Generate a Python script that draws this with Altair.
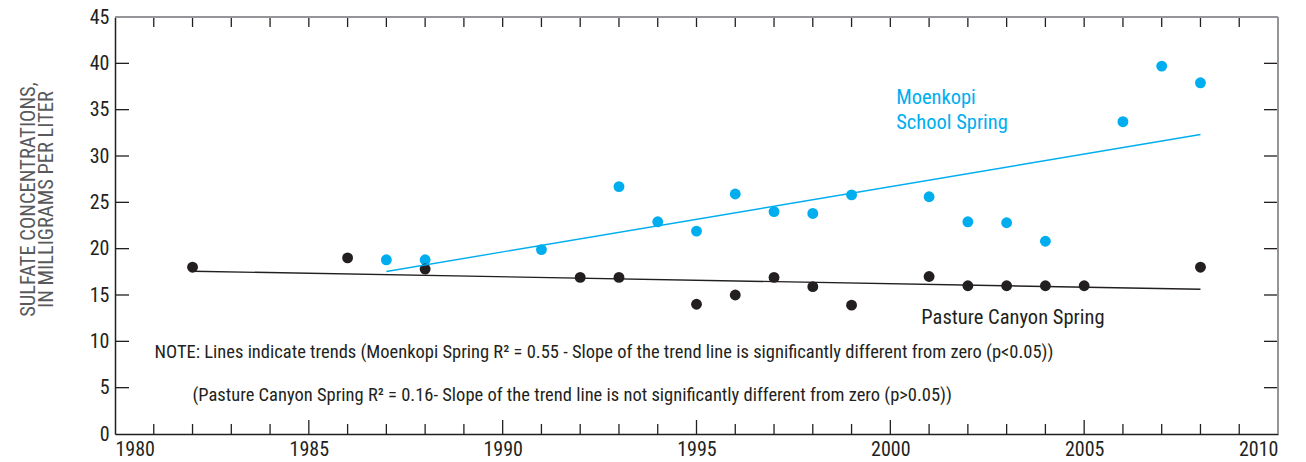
import altair as alt
import pandas as pd

# Sulfate concentrations (mg/L) by year for the two springs
moenkopi_years = [1987, 1988, 1991, 1993, 1994, 1995, 1996, 1997, 1998, 1999,
                  2001, 2002, 2003, 2004, 2006, 2007, 2008]
moenkopi_sulfate = [18.8, 18.8, 19.9, 26.7, 22.9, 21.9, 25.9, 24.0, 23.8, 25.8,
                    25.6, 22.9, 22.8, 20.8, 33.7, 39.7, 37.9]

pasture_years = [1982, 1986, 1988, 1992, 1993, 1995, 1996, 1997, 1998, 1999,
                 2001, 2002, 2003, 2004, 2005, 2008]
pasture_sulfate = [18.0, 19.0, 17.8, 16.9, 16.9, 14.0, 15.0, 16.9, 15.9, 13.9,
                   17.0, 16.0, 16.0, 16.0, 16.0, 18.0]

series_names = ["Moenkopi School Spring", "Pasture Canyon Spring"]
series_colors = ["#00AEEF", "#231F20"]

# Axis ticks
x_label_years = [1980, 1985, 1990, 1995, 2000, 2005, 2010]
x_major_ticks = [1985, 1990, 1995, 2000, 2005]
x_minor_ticks = [y for y in range(1981, 2010) if y % 5 != 0]
x_top_ticks = list(range(1981, 2010))
y_label_values = [0, 5, 10, 15, 20, 25, 30, 35, 40, 45]
y_inner_ticks = [5, 10, 15, 20, 25, 30, 35, 40]

# In-plot annotations
label_text = ["Moenkopi", "School Spring", "Pasture Canyon Spring"]
label_x = [2000.15, 2000.15, 2000.8]
label_y = [36.3, 33.6, 12.5]
label_color = ["#00AEEF", "#00AEEF", "#231F20"]

note_text = [
    "NOTE: Lines indicate trends (Moenkopi Spring R\u00b2 = 0.55 - Slope of the trend line is significantly different from zero (p<0.05))",
    "(Pasture Canyon Spring R\u00b2 = 0.16- Slope of the trend line is not significantly different from zero (p>0.05))",
]
note_x = [1981.02, 1982.0]
note_y = [8.85, 4.2]

FONT = "Liberation Sans Narrow, Roboto Condensed, DejaVu Sans Condensed, sans-serif"
DARK = "#231F20"
W, H = 1163, 417

obs = pd.DataFrame({
    "year": moenkopi_years + pasture_years,
    "sulfate": moenkopi_sulfate + pasture_sulfate,
    "series": [series_names[0]] * len(moenkopi_years) + [series_names[1]] * len(pasture_years),
})

xscale = alt.Scale(domain=[1980, 2010], nice=False, zero=False)
yscale = alt.Scale(domain=[0, 45], nice=False, zero=True)
cscale = alt.Scale(domain=series_names, range=series_colors)

x_axis = alt.Axis(values=x_label_years, format="d", title=None, tickSize=0,
                  labelPadding=5, labelFont=FONT, labelFontSize=20, labelColor=DARK,
                  domainColor=DARK, domainWidth=1.5, grid=False)
y_axis = alt.Axis(values=y_label_values, format="d", tickSize=0, labelPadding=6,
                  labelFont=FONT, labelFontSize=20, labelColor=DARK,
                  domainColor=DARK, domainWidth=1.5, grid=False,
                  title=["SULFATE CONCENTRATIONS,", "IN MILLIGRAMS PER LITER"],
                  titleFont=FONT, titleFontSize=20.5, titleFontWeight="normal",
                  titleColor="#58595B", titleX=-77, titleY=182, titleAngle=-90,
                  titleAlign="center", titleBaseline="bottom", titleLineHeight=18)


def X(field="year"):
    return alt.X(f"{field}:Q", scale=xscale, axis=x_axis)


def Y(field="sulfate"):
    return alt.Y(f"{field}:Q", scale=yscale, axis=y_axis)


base = alt.Chart(obs)

points = base.mark_circle(size=118, opacity=1).encode(
    x=X(), y=Y(),
    color=alt.Color("series:N", scale=cscale, legend=None),
)

trends = base.transform_regression(
    "year", "sulfate", groupby=["series"]
).mark_line(strokeWidth=1.4).encode(
    x=X(), y=Y(),
    color=alt.Color("series:N", scale=cscale, legend=None),
)


def x_tick_layer(years, y_from, y_to):
    return alt.Chart(pd.DataFrame({"year": years})).mark_rule(
        color=DARK, strokeWidth=1.3
    ).encode(x=X(), y=alt.value(y_from), y2=alt.value(y_to))


def y_tick_layer(values, x_from, x_to):
    return alt.Chart(pd.DataFrame({"sulfate": values})).mark_rule(
        color=DARK, strokeWidth=1.3
    ).encode(y=Y(), x=alt.value(x_from), x2=alt.value(x_to))


bottom_major = x_tick_layer(x_major_ticks, H, H - 14)
bottom_minor = x_tick_layer(x_minor_ticks, H, H - 10)
top_ticks = x_tick_layer(x_top_ticks, 0, 10)
left_ticks = y_tick_layer(y_inner_ticks, 0, 14)
right_ticks = y_tick_layer(y_inner_ticks, W - 14, W)

frame_top = alt.Chart(pd.DataFrame({"k": [0]})).mark_rule(
    color="#939598", strokeWidth=2
).encode(x=alt.value(0), x2=alt.value(W), y=alt.value(0))
frame_right = alt.Chart(pd.DataFrame({"k": [0]})).mark_rule(
    color="#939598", strokeWidth=2
).encode(x=alt.value(W), y=alt.value(0), y2=alt.value(H))

labels = alt.Chart(pd.DataFrame({
    "year": label_x, "sulfate": label_y, "text": label_text, "color": label_color,
})).mark_text(align="left", baseline="middle", font=FONT, fontSize=20.5).encode(
    x=X(), y=Y(),
    text="text:N",
    color=alt.Color("color:N", scale=None),
)

notes = alt.Chart(pd.DataFrame({
    "year": note_x, "sulfate": note_y, "text": note_text,
})).mark_text(align="left", baseline="middle", font=FONT, fontSize=18.5, color=DARK).encode(
    x=X(), y=Y(),
    text="text:N",
)

chart = alt.layer(
    points, trends, bottom_major, bottom_minor, top_ticks, left_ticks,
    right_ticks, frame_top, frame_right, labels, notes,
).properties(
    width=W, height=H,
    autosize=alt.AutoSizeParams(type="none"),
    padding={"left": 115, "top": 17, "right": 28, "bottom": 28},
).configure_view(stroke=None).configure(background="white")

chart.save("out.html", embed_options={"renderer": "svg", "actions": False})
